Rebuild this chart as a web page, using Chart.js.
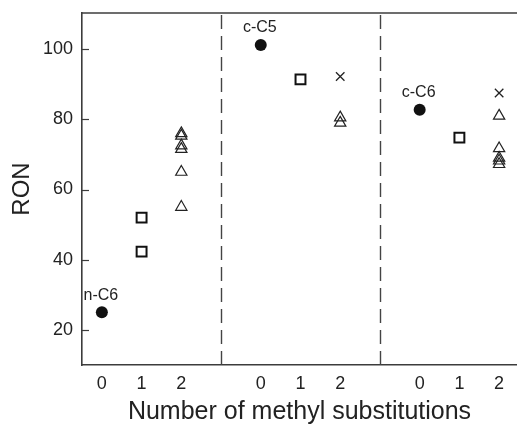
<!DOCTYPE html>
<html>
<head>
<meta charset="utf-8">
<script src="https://cdn.jsdelivr.net/npm/chart.js@4/dist/chart.umd.min.js"></script>
<style>
html,body{margin:0;padding:0;background:#fff;overflow:hidden;}
#wrap{width:517px;height:425px;}
</style>
</head>
<body>
<div id="wrap"><canvas id="c" width="517" height="425"></canvas></div>
<script>
// ---- data ----
const groups = ['n-C6', 'c-C5', 'c-C6'];
const methylTickLabels = ['0', '1', '2'];
const yTicks = [20, 40, 60, 80, 100];
const parentRON = [25, 101.2, 82.7];                       // 0 methyl (filled circles)
const monoMethylRON = [[52, 42.3], [91.4], [74.8]];        // 1 methyl (squares)
const diMethylTriRON = [[76, 75.3, 72.5, 71.5, 65, 55], [80.5, 79], [81, 71.7, 69, 68.2, 67.2]]; // 2 methyl (triangles)
const diMethylCrossRON = [[], [92.2], [87.5]];             // 2 methyl (crosses)

const groupWidth = 4;
const pos = (g, n) => g * groupWidth + n;
const xTickValues = [];
const xTickText = {};
groups.forEach((g, gi) => methylTickLabels.forEach((l, n) => { xTickValues.push(pos(gi, n)); xTickText[pos(gi, n)] = l; }));
const separators = groups.slice(1).map((g, gi) => pos(gi + 1, 0) - 1);

const circlePts = parentRON.map((v, g) => ({x: pos(g, 0), y: v}));
const squarePts = monoMethylRON.flatMap((arr, g) => arr.map(v => ({x: pos(g, 1), y: v})));
const triPts = diMethylTriRON.flatMap((arr, g) => arr.map(v => ({x: pos(g, 2), y: v})));
const crossPts = diMethylCrossRON.flatMap((arr, g) => arr.map(v => ({x: pos(g, 2), y: v})));

const FONT = '"Liberation Sans", Arial, Helvetica, sans-serif';
const AXIS = '#3c3c3c';

const deco = {
  id: 'deco',
  beforeDatasetsDraw(chart) {
    const {ctx, chartArea: a, scales: {x, y}} = chart;
    ctx.save();
    // dashed separators
    ctx.strokeStyle = '#444';
    ctx.lineWidth = 1.4;
    ctx.setLineDash([14, 7]);
    separators.forEach(s => {
      const px = Math.round(x.getPixelForValue(s)) + 0.5;
      ctx.beginPath(); ctx.moveTo(px, a.top + 2); ctx.lineTo(px, a.bottom); ctx.stroke();
    });
    ctx.setLineDash([]);
    // top border
    ctx.strokeStyle = AXIS;
    ctx.lineWidth = 1.6;
    ctx.beginPath(); ctx.moveTo(a.left, a.top); ctx.lineTo(a.right, a.top); ctx.stroke();
    // inward y ticks
    ctx.lineWidth = 1.2;
    yTicks.forEach(v => {
      const py = Math.round(y.getPixelForValue(v)) + 0.5;
      ctx.beginPath(); ctx.moveTo(a.left, py); ctx.lineTo(a.left + 7, py); ctx.stroke();
    });
    ctx.restore();
  },
  afterDatasetsDraw(chart) {
    const {ctx, scales: {x, y}} = chart;
    ctx.save();
    ctx.fillStyle = '#222';
    ctx.font = '16px ' + FONT;
    ctx.textAlign = 'center';
    ctx.textBaseline = 'middle';
    groups.forEach((g, gi) => {
      const px = x.getPixelForValue(pos(gi, 0));
      const py = y.getPixelForValue(parentRON[gi]);
      ctx.fillText(g, px - 1, py - 17);
    });
    ctx.restore();
  }
};

new Chart(document.getElementById('c'), {
  type: 'scatter',
  data: {
    datasets: [
      {data: circlePts, pointStyle: 'circle', pointRadius: 6, backgroundColor: '#111', borderColor: '#111', borderWidth: 0},
      {data: squarePts, pointStyle: 'rect', pointRadius: 7, backgroundColor: 'rgba(0,0,0,0)', borderColor: '#111', borderWidth: 2},
      {data: triPts, pointStyle: 'triangle', pointRadius: 6.5, backgroundColor: 'rgba(0,0,0,0)', borderColor: '#222', borderWidth: 1.2},
      {data: crossPts, pointStyle: 'crossRot', pointRadius: 6, backgroundColor: 'rgba(0,0,0,0)', borderColor: '#222', borderWidth: 1.3}
    ]
  },
  options: {
    responsive: false,
    animation: false,
    events: [],
    layout: {autoPadding: false, padding: {top: 13, right: 0, left: 0, bottom: 0}},
    plugins: {legend: {display: false}, tooltip: {enabled: false}},
    scales: {
      x: {
        type: 'linear', min: -0.5, max: 10.45,
        afterBuildTicks: s => { s.ticks = xTickValues.map(v => ({value: v})); },
        afterFit: s => { s.height = 60; s.paddingLeft = 0; s.paddingRight = 0; },
        grid: {display: false, drawTicks: false},
        border: {display: true, color: AXIS, width: 1.6},
        ticks: {padding: 8, color: '#222', font: {family: FONT, size: 18}, maxRotation: 0, autoSkip: false,
                callback: v => xTickText[v] !== undefined ? xTickText[v] : ''},
        title: {display: true, text: 'Number of methyl substitutions', color: '#222',
                font: {family: FONT, size: 25, lineHeight: 1}, padding: {top: 0, bottom: 0}}
      },
      y: {
        type: 'linear', min: 10, max: 110.3,
        afterBuildTicks: s => { s.ticks = yTicks.map(v => ({value: v})); },
        afterFit: s => { s.width = 82; s.paddingTop = 0; s.paddingBottom = 0; },
        grid: {display: false, drawTicks: false},
        border: {display: true, color: AXIS, width: 1.6},
        ticks: {padding: 9, color: '#222', font: {family: FONT, size: 18}},
        title: {display: true, text: 'RON', color: '#222',
                font: {family: FONT, size: 24, lineHeight: 1}, padding: {top: 10, bottom: 0}}
      }
    }
  },
  plugins: [deco]
});
</script>
</body>
</html>
